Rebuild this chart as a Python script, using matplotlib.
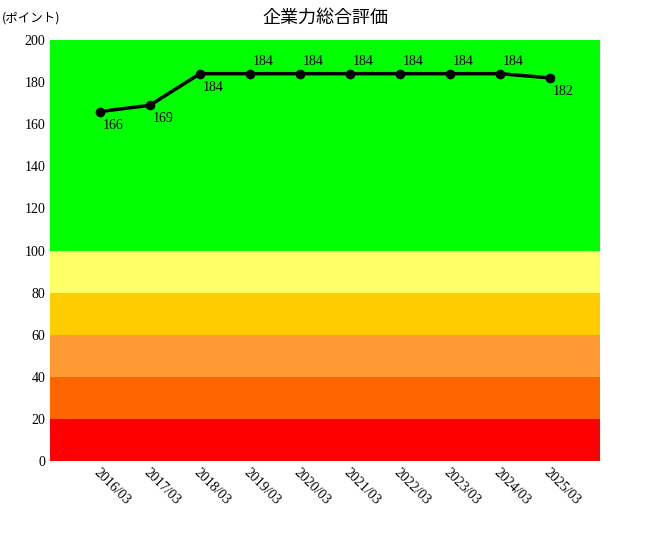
import matplotlib
matplotlib.use("Agg")
import matplotlib.pyplot as plt

years = ["2016/03","2017/03","2018/03","2019/03","2020/03","2021/03","2022/03","2023/03","2024/03","2025/03"]
values = [166,169,184,184,184,184,184,184,184,182]
label_below = [True,True,True,False,False,False,False,False,False,True]
bands = [(0,20,"#ff0000"),(20,40,"#ff6600"),(40,60,"#ff9933"),(60,80,"#ffcc00"),(80,100,"#ffff66"),(100,200,"#00ff00")]

plt.rcParams['font.family'] = ['Liberation Serif','Noto Sans CJK JP']
fig = plt.figure(figsize=(6.5,5.4), dpi=100)
ax = fig.add_axes([50/650, 1-461/540, 550/650, 421/540])
for lo,hi,c in bands:
    ax.axhspan(lo,hi,color=c,lw=0)
x = list(range(len(years)))
ax.plot(x, values, color="black", lw=2.5, marker="o", ms=6)
for xi,v,b in zip(x,values,label_below):
    ax.annotate(str(v),(xi,v),xytext=(2,-5 if b else 4),textcoords="offset points",
                ha="left",va="top" if b else "bottom",fontsize=10)
ax.set_xlim(-1,10)
ax.set_ylim(0,200)
ax.set_yticks(range(0,201,20))
ax.set_xticks(x)
ax.set_xticklabels(years, rotation=-45, ha="left", rotation_mode="anchor", fontsize=10)
ax.tick_params(length=0, labelsize=10)
for s in ax.spines.values(): s.set_visible(False)
fig.text(0.5, 1-18/540, "企業力総合評価", ha="center", va="center", fontsize=13, family=['Noto Sans CJK JP'])
fig.text(2/650, 1-18/540, "(ポイント)", ha="left", va="center", fontsize=9, family=['Noto Sans CJK JP'])
fig.savefig("out.png", dpi=100)
